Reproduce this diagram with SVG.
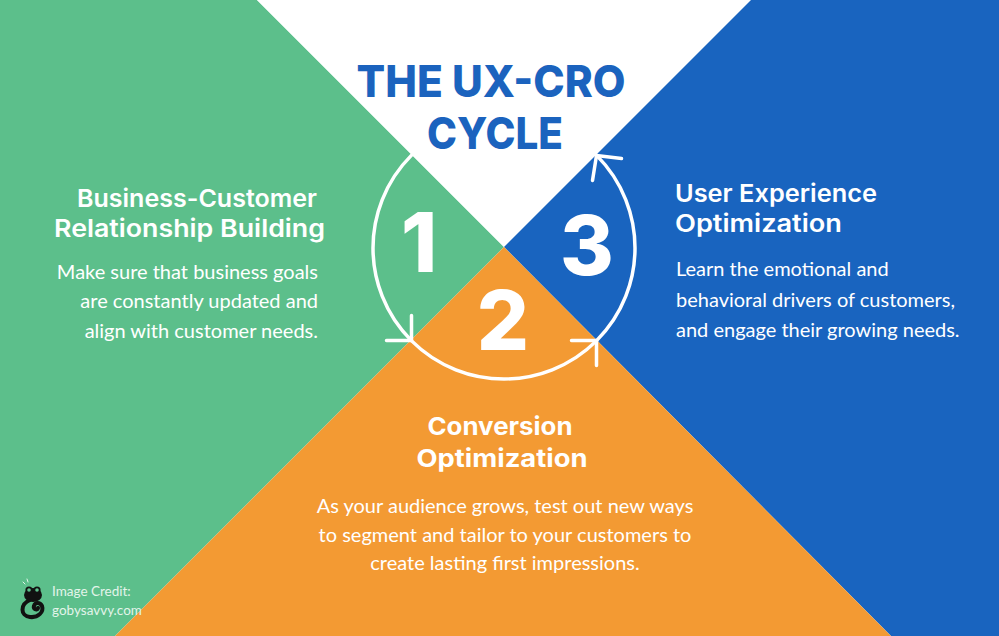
<svg xmlns="http://www.w3.org/2000/svg" width="999" height="636" viewBox="0 0 999 636">
  <style>
    .title { font-family: Inter, "Liberation Sans", sans-serif; font-weight: 800; font-size: 44px; fill: #1B63BE; text-anchor: middle; }
    .num { font-family: Inter, "Liberation Sans", sans-serif; font-weight: 800; font-size: 82px; fill: #FFFFFF; text-anchor: middle; }
    .head { font-family: Inter, "Liberation Sans", sans-serif; font-weight: 600; font-size: 24.5px; fill: #FFFFFF; }
    .headb { font-family: Inter, "Liberation Sans", sans-serif; font-weight: 700; font-size: 24.5px; fill: #FFFFFF; text-anchor: middle; }
    .body { font-family: Lato, "Liberation Sans", sans-serif; font-size: 20px; fill: #FFFFFF; }
    .credit { font-family: Lato, "Liberation Sans", sans-serif; font-size: 13.5px; fill: #E3F4EA; }
    .ring { fill: none; stroke: #FFFFFF; stroke-width: 3.5; stroke-linecap: round; stroke-linejoin: round; }
  </style>

  <g id="background">
    <polygon points="0,0 257,0 504,247 115,636 0,636" fill="#5CBF8B"/>
    <polygon points="257,0 751,0 504,247" fill="#FFFFFF"/>
    <polygon points="751,0 999,0 999,636 891,636 504,247" fill="#1964BF"/>
    <polygon points="504,247 891,636 115,636" fill="#F39A33"/>
  </g>

  <g id="connectors">
    <circle class="ring" cx="504" cy="248" r="131"/>
    <path class="ring" d="M411.5,315.5 L411.5,340.5 L386.5,340.5"/>
    <path class="ring" d="M571.5,340.5 L596.5,340.5 L596.5,365.5"/>
    <path class="ring" d="M621.5,158.5 L596.5,155.5 L592.5,180.5"/>
  </g>

  <g id="title">
    <text class="title" x="491" y="97" textLength="269" lengthAdjust="spacingAndGlyphs">THE UX-CRO</text>
    <text class="title" x="495" y="149" textLength="136" lengthAdjust="spacingAndGlyphs">CYCLE</text>
  </g>

  <g id="node-1">
    <text class="num" x="419" y="272">1</text>
    <text class="head" x="197" y="207" text-anchor="middle" textLength="240" lengthAdjust="spacingAndGlyphs">Business-Customer</text>
    <text class="head" x="189.5" y="237" text-anchor="middle" textLength="271" lengthAdjust="spacingAndGlyphs">Relationship Building</text>
    <text class="body" x="318" y="279" text-anchor="end">Make sure that business goals</text>
    <text class="body" x="318" y="308" text-anchor="end">are constantly updated and</text>
    <text class="body" x="318" y="338" text-anchor="end">align with customer needs.</text>
  </g>

  <g id="node-2">
    <text class="num" x="503" y="350">2</text>
    <text class="headb" x="500" y="435" textLength="145" lengthAdjust="spacingAndGlyphs">Conversion</text>
    <text class="headb" x="502" y="467" textLength="171" lengthAdjust="spacingAndGlyphs">Optimization</text>
    <text class="body" x="505" y="513" text-anchor="middle">As your audience grows, test out new ways</text>
    <text class="body" x="505" y="542" text-anchor="middle">to segment and tailor to your customers to</text>
    <text class="body" x="505" y="570" text-anchor="middle">create lasting first impressions.</text>
  </g>

  <g id="node-3">
    <text class="num" x="587" y="275">3</text>
    <text class="head" x="675" y="202" textLength="202" lengthAdjust="spacingAndGlyphs">User Experience</text>
    <text class="head" x="675" y="232" textLength="167" lengthAdjust="spacingAndGlyphs">Optimization</text>
    <text class="body" x="676" y="276">Learn the emotional and</text>
    <text class="body" x="676" y="307">behavioral drivers of customers,</text>
    <text class="body" x="676" y="337">and engage their growing needs.</text>
  </g>

  <g id="credit">
    <g id="logo">
      <path d="M30,600 C20,604 20,616 30,617 C38,618 44,612 42,606 C40,602 35,602 34,606 C33,609 37,611 38,608" fill="none" stroke="#111111" stroke-width="4" stroke-linecap="round"/>
      <ellipse cx="33" cy="595" rx="9" ry="7" fill="#111111"/>
      <circle cx="29" cy="590" r="3.6" fill="#111111"/>
      <circle cx="37" cy="590" r="3.6" fill="#111111"/>
      <circle cx="29" cy="590" r="1.8" fill="#5CBF8B"/>
      <circle cx="37" cy="590" r="1.8" fill="#5CBF8B"/>
      <path d="M25,584 L23,582 M28,582 L27,579" stroke="#E3F4EA" stroke-width="1" stroke-linecap="round"/>
    </g>
    <text class="credit" x="52" y="596">Image Credit:</text>
    <text class="credit" x="52" y="615">gobysavvy.com</text>
  </g>
</svg>
